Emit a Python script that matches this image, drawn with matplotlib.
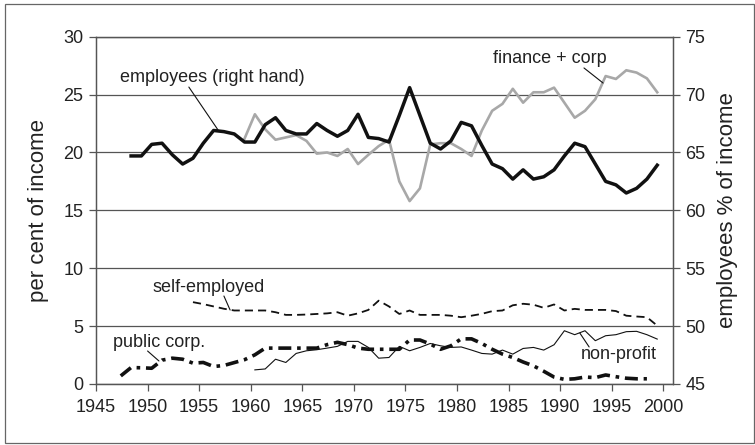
import numpy as np
import matplotlib
matplotlib.use("Agg")
import matplotlib.pyplot as plt
from matplotlib.patches import Rectangle

plt.rcParams['font.family'] = ['Liberation Sans', 'DejaVu Sans']

# ---------------- data ----------------
emp_years = list(range(1948, 2000))
employees = [64.7, 64.7, 65.7, 65.8, 64.8, 64.0, 64.5, 65.8, 66.9, 66.8,
             66.6, 65.9, 65.9, 67.4, 68.0, 66.9, 66.6, 66.6, 67.5, 66.9,
             66.4, 66.9, 68.3, 66.3, 66.2, 65.9, 68.2, 70.6, 68.2, 65.8,
             65.3, 66.0, 67.6, 67.3, 65.6, 64.0, 63.6, 62.7, 63.5, 62.7,
             62.9, 63.5, 64.7, 65.8, 65.5, 64.0, 62.5, 62.2, 61.5, 61.9,
             62.7, 63.9]

fin_years = list(range(1959, 2000))
finance_corp = [21.2, 23.3, 22.0, 21.1, 21.3, 21.5, 21.0, 19.9, 20.0, 19.7,
                20.3, 19.0, 19.8, 20.55, 21.1, 17.5, 15.8, 16.9, 20.7, 20.8,
                20.8, 20.3, 19.7, 21.9, 23.6, 24.2, 25.5, 24.3, 25.2, 25.2,
                25.6, 24.3, 23.0, 23.6, 24.6, 26.6, 26.35, 27.1, 26.9, 26.4,
                25.2]

self_years = list(range(1954, 2000))
self_employed = [7.07, 6.9, 6.7, 6.5, 6.35, 6.35, 6.35, 6.35, 6.2, 5.97,
                 5.97, 6.0, 6.05, 6.1, 6.2, 5.9, 6.1, 6.4, 7.2, 6.7,
                 6.05, 6.35, 5.97, 5.97, 5.97, 5.9, 5.77, 5.9, 6.06, 6.29,
                 6.35, 6.8, 6.93, 6.85, 6.58, 6.87, 6.35, 6.49, 6.4, 6.4,
                 6.4, 6.3, 5.9, 5.83, 5.77, 5.04]

pub_years = list(range(1947, 1999))
public_corp = [0.7, 1.42, 1.4, 1.36, 2.06, 2.23, 2.14, 1.8, 1.86, 1.51,
               1.6, 1.85, 2.1, 2.52, 3.1, 3.1, 3.1, 3.1, 3.1, 3.1,
               3.4, 3.6, 3.4, 3.1, 3.0, 3.0, 3.0, 3.0, 3.8, 3.8,
               3.45, 3.0, 3.3, 3.9, 3.9, 3.5, 3.0, 2.58, 2.29, 1.9,
               1.57, 1.1, 0.6, 0.4, 0.45, 0.6, 0.55, 0.78, 0.63, 0.5,
               0.45, 0.45]

np_years = list(range(1960, 2000))
non_profit = [1.22, 1.3, 2.14, 1.86, 2.64, 2.87, 2.96, 3.1, 3.25, 3.68,
              3.68, 3.16, 2.23, 2.29, 3.25, 2.87, 3.16, 3.5, 3.3, 3.16,
              3.2, 2.93, 2.64, 2.58, 2.93, 2.58, 3.07, 3.16, 2.93, 3.39,
              4.6, 4.26, 4.6, 3.74, 4.17, 4.26, 4.52, 4.55, 4.26, 3.88]

x_ticks = list(range(1945, 2001, 5))
left_ticks = [0, 5, 10, 15, 20, 25, 30]
right_ticks = [45, 50, 55, 60, 65, 70, 75]

MID = 0.4  # observations plotted within the year

# ---------------- figure ----------------
fig = plt.figure(figsize=(7.55, 4.45), dpi=100)
ax = fig.add_axes([96 / 755, 1 - 384 / 445, (672.7 - 96) / 755, (384 - 36.7) / 445])
ax2 = ax.twinx()

TXT = '#222222'
GRID = '#555555'

def X(yrs):
    return np.array(yrs) + MID

ax.plot(X(fin_years), finance_corp, color='#a8a8a8', lw=1.9, zorder=3)
ax.plot(X(self_years), self_employed, color='#111111', lw=1.3,
        dashes=(4.5, 2.8), zorder=3)
ax.plot(X(pub_years), public_corp, color='#111111', lw=2.6,
        dashes=(3.6, 1.6, 1.0, 1.6), zorder=3)
ax.plot(X(np_years), non_profit, color='#111111', lw=0.8, zorder=3)
ax2.plot(X(emp_years), employees, color='#111111', lw=2.5, zorder=4)

ax.set_xlim(1945, 2000.9)
ax.set_ylim(0, 30)
ax2.set_ylim(45, 75)
ax.set_xticks(x_ticks)
ax.set_yticks(left_ticks)
ax2.set_yticks(right_ticks)

ax.yaxis.grid(True, color=GRID, lw=0.9)
ax.set_axisbelow(True)
for a in (ax, ax2):
    for s in a.spines.values():
        s.set_color(GRID)
        s.set_linewidth(0.9)
ax.tick_params(axis='both', direction='out', length=5, width=0.9,
               color=GRID, labelsize=13, labelcolor=TXT, pad=4)
ax2.tick_params(axis='y', direction='out', length=5, width=0.9,
                color=GRID, labelsize=13, labelcolor=TXT, pad=4)
ax.tick_params(axis='x', pad=6)

ax.set_ylabel('per cent of income', fontsize=16, color=TXT, labelpad=10)
ax2.set_ylabel('employees % of income', fontsize=16, color=TXT, labelpad=8)

# annotation texts
labels = [
    ('employees (right hand)', (1956.3, 26.5)),
    ('finance + corp', (1989.0, 28.15)),
    ('self-employed', (1955.9, 8.37)),
    ('public corp.', (1951.1, 3.6)),
    ('non-profit', (1995.65, 2.59)),
]
for txt, pos in labels:
    ax.text(pos[0], pos[1], txt, fontsize=13, color=TXT, ha='center', va='center')

# leader lines (from label to series)
leaders = [
    ((1954.0, 25.65), (1956.9, 21.85)),
    ((1992.3, 27.3), (1994.15, 26.0)),
    ((1957.4, 7.6), (1958.0, 6.39)),
    ((1950.0, 2.85), (1951.1, 1.99)),
    ((1992.8, 3.2), (1991.9, 4.4)),
]
for start, end in leaders:
    ax.annotate('', xy=end, xytext=start,
                arrowprops=dict(arrowstyle='-', color='#111111', lw=0.8,
                                shrinkA=0, shrinkB=0))

# outer frame
fig.patches.append(Rectangle((5 / 755, 2 / 445), 749 / 755, 439 / 445,
                             transform=fig.transFigure, fill=False,
                             edgecolor='#666666', lw=0.9))

fig.savefig('out.png', dpi=100)
